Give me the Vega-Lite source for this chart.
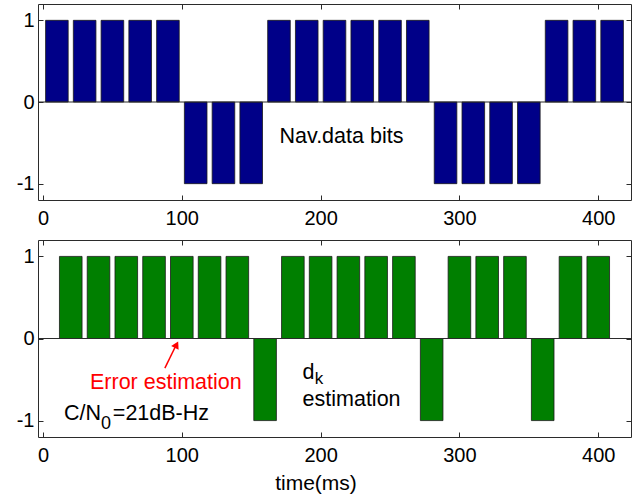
{
  "$schema": "https://vega.github.io/schema/vega-lite/v6.json",
  "padding": {"left": 15, "top": 3, "right": 0, "bottom": 0},
  "background": "white",
  "bounds": "flush",
  "spacing": 40,
  "datasets": {
    "nav": [
      {"t": 10, "v": 1}, {"t": 30, "v": 1}, {"t": 50, "v": 1}, {"t": 70, "v": 1}, {"t": 90, "v": 1},
      {"t": 110, "v": -1}, {"t": 130, "v": -1}, {"t": 150, "v": -1},
      {"t": 170, "v": 1}, {"t": 190, "v": 1}, {"t": 210, "v": 1}, {"t": 230, "v": 1}, {"t": 250, "v": 1}, {"t": 270, "v": 1},
      {"t": 290, "v": -1}, {"t": 310, "v": -1}, {"t": 330, "v": -1}, {"t": 350, "v": -1},
      {"t": 370, "v": 1}, {"t": 390, "v": 1}, {"t": 410, "v": 1}
    ],
    "dk": [
      {"t": 20, "v": 1}, {"t": 40, "v": 1}, {"t": 60, "v": 1}, {"t": 80, "v": 1}, {"t": 100, "v": 1}, {"t": 120, "v": 1}, {"t": 140, "v": 1},
      {"t": 160, "v": -1},
      {"t": 180, "v": 1}, {"t": 200, "v": 1}, {"t": 220, "v": 1}, {"t": 240, "v": 1}, {"t": 260, "v": 1},
      {"t": 280, "v": -1},
      {"t": 300, "v": 1}, {"t": 320, "v": 1}, {"t": 340, "v": 1},
      {"t": 360, "v": -1},
      {"t": 380, "v": 1}, {"t": 400, "v": 1}
    ],
    "one": [{}]
  },
  "config": {
    "font": "Liberation Sans",
    "view": {"stroke": "#2b2b2b", "strokeWidth": 1},
    "axis": {
      "grid": false,
      "domain": false,
      "tickColor": "#2b2b2b",
      "tickSize": -5,
      "labelFont": "Liberation Sans",
      "labelFontSize": 20,
      "labelColor": "#000",
      "labelFlush": false,
      "labelOverlap": false,
      "labelExpr": "replace(datum.label, '\u2212', '-')",
      "titleFont": "Liberation Sans",
      "titleFontSize": 21,
      "titleFontWeight": "normal",
      "titleColor": "#000"
    },
    "text": {"font": "Liberation Sans", "fontSize": 21.5, "color": "#000", "baseline": "alphabetic"}
  },
  "vconcat": [
    {
      "width": 593,
      "height": 196,
      "resolve": {"axis": {"x": "independent", "y": "independent"}},
      "layer": [
        {
          "data": {"name": "nav"},
          "mark": {"type": "bar", "size": 22.6, "color": "#000088", "stroke": "#1a1a1a", "strokeWidth": 0.8},
          "encoding": {
            "x": {"field": "t", "type": "quantitative", "scale": {"domain": [0, 420], "nice": false, "zero": false},
                  "axis": {"orient": "bottom", "values": [0, 100, 200, 300, 400], "title": null, "labelPadding": 13}},
            "y": {"field": "v", "type": "quantitative", "scale": {"domain": [-1.2, 1.2], "nice": false},
                  "axis": {"orient": "left", "values": [-1, 0, 1], "title": null, "labelPadding": 9}},
            "y2": {"datum": 0}
          }
        },
        {
          "data": {"name": "nav"},
          "mark": {"type": "point", "opacity": 0},
          "encoding": {
            "x": {"field": "t", "type": "quantitative", "axis": {"orient": "top", "values": [0, 100, 200, 300, 400], "labels": false, "title": null}},
            "y": {"field": "v", "type": "quantitative", "axis": {"orient": "right", "values": [-1, 0, 1], "labels": false, "title": null}}
          }
        },
        {
          "data": {"name": "one"},
          "mark": {"type": "rule", "color": "#2b2b2b", "strokeWidth": 1},
          "encoding": {"y": {"datum": 0, "type": "quantitative", "axis": null}}
        },
        {
          "data": {"name": "one"},
          "mark": {"type": "text", "text": "Nav.data bits", "align": "center"},
          "encoding": {
            "x": {"datum": 215, "type": "quantitative", "axis": null},
            "y": {"datum": -0.5, "type": "quantitative", "axis": null}
          }
        }
      ]
    },
    {
      "width": 593,
      "height": 197,
      "resolve": {"axis": {"x": "independent", "y": "independent"}},
      "layer": [
        {
          "data": {"name": "dk"},
          "mark": {"type": "bar", "size": 22.6, "color": "#007F00", "stroke": "#1a1a1a", "strokeWidth": 0.8},
          "encoding": {
            "x": {"field": "t", "type": "quantitative", "scale": {"domain": [0, 420], "nice": false, "zero": false},
                  "axis": {"orient": "bottom", "values": [0, 100, 200, 300, 400], "title": "time(ms)", "labelPadding": 13,
                           "titleX": 277.5, "titleY": 52, "titleBaseline": "alphabetic", "titleAlign": "center", "titleAnchor": null}},
            "y": {"field": "v", "type": "quantitative", "scale": {"domain": [-1.2, 1.2], "nice": false},
                  "axis": {"orient": "left", "values": [-1, 0, 1], "title": null, "labelPadding": 9}},
            "y2": {"datum": 0}
          }
        },
        {
          "data": {"name": "dk"},
          "mark": {"type": "point", "opacity": 0},
          "encoding": {
            "x": {"field": "t", "type": "quantitative", "axis": {"orient": "top", "values": [0, 100, 200, 300, 400], "labels": false, "title": null}},
            "y": {"field": "v", "type": "quantitative", "axis": {"orient": "right", "values": [-1, 0, 1], "labels": false, "title": null}}
          }
        },
        {
          "data": {"name": "one"},
          "mark": {"type": "rule", "color": "#2b2b2b", "strokeWidth": 1},
          "encoding": {"y": {"datum": 0, "type": "quantitative", "axis": null}}
        },
        {
          "data": {"name": "one"},
          "mark": {"type": "rule", "color": "#ff0000", "strokeWidth": 1.5},
          "encoding": {
            "x": {"datum": 87.8, "type": "quantitative", "axis": null},
            "y": {"datum": -0.36, "type": "quantitative", "axis": null},
            "x2": {"datum": 96.2},
            "y2": {"datum": -0.07}
          }
        },
        {
          "data": {"name": "one"},
          "mark": {"type": "point", "shape": "triangle-up", "filled": true, "color": "#ff0000", "opacity": 1, "size": 70, "angle": 27},
          "encoding": {
            "x": {"datum": 96.2, "type": "quantitative", "axis": null},
            "y": {"datum": -0.075, "type": "quantitative", "axis": null}
          }
        },
        {
          "data": {"name": "one"},
          "mark": {"type": "text", "text": "Error estimation", "align": "center", "color": "#ff0000"},
          "encoding": {
            "x": {"datum": 88.5, "type": "quantitative", "axis": null},
            "y": {"datum": -0.615, "type": "quantitative", "axis": null}
          }
        },
        {
          "data": {"name": "one"},
          "mark": {"type": "text", "text": "C/N", "align": "right"},
          "encoding": {
            "x": {"datum": 41.8, "type": "quantitative", "axis": null},
            "y": {"datum": -0.99, "type": "quantitative", "axis": null}
          }
        },
        {
          "data": {"name": "one"},
          "mark": {"type": "text", "text": "0", "align": "left", "fontSize": 18},
          "encoding": {
            "x": {"datum": 41.8, "type": "quantitative", "axis": null},
            "y": {"datum": -1.1, "type": "quantitative", "axis": null}
          }
        },
        {
          "data": {"name": "one"},
          "mark": {"type": "text", "text": "=21dB-Hz", "align": "left"},
          "encoding": {
            "x": {"datum": 50.3, "type": "quantitative", "axis": null},
            "y": {"datum": -0.99, "type": "quantitative", "axis": null}
          }
        },
        {
          "data": {"name": "one"},
          "mark": {"type": "text", "text": "d", "align": "left"},
          "encoding": {
            "x": {"datum": 187, "type": "quantitative", "axis": null},
            "y": {"datum": -0.49, "type": "quantitative", "axis": null}
          }
        },
        {
          "data": {"name": "one"},
          "mark": {"type": "text", "text": "k", "align": "left", "fontSize": 17},
          "encoding": {
            "x": {"datum": 195.8, "type": "quantitative", "axis": null},
            "y": {"datum": -0.555, "type": "quantitative", "axis": null}
          }
        },
        {
          "data": {"name": "one"},
          "mark": {"type": "text", "text": "estimation", "align": "left"},
          "encoding": {
            "x": {"datum": 187, "type": "quantitative", "axis": null},
            "y": {"datum": -0.82, "type": "quantitative", "axis": null}
          }
        }
      ]
    }
  ]
}
